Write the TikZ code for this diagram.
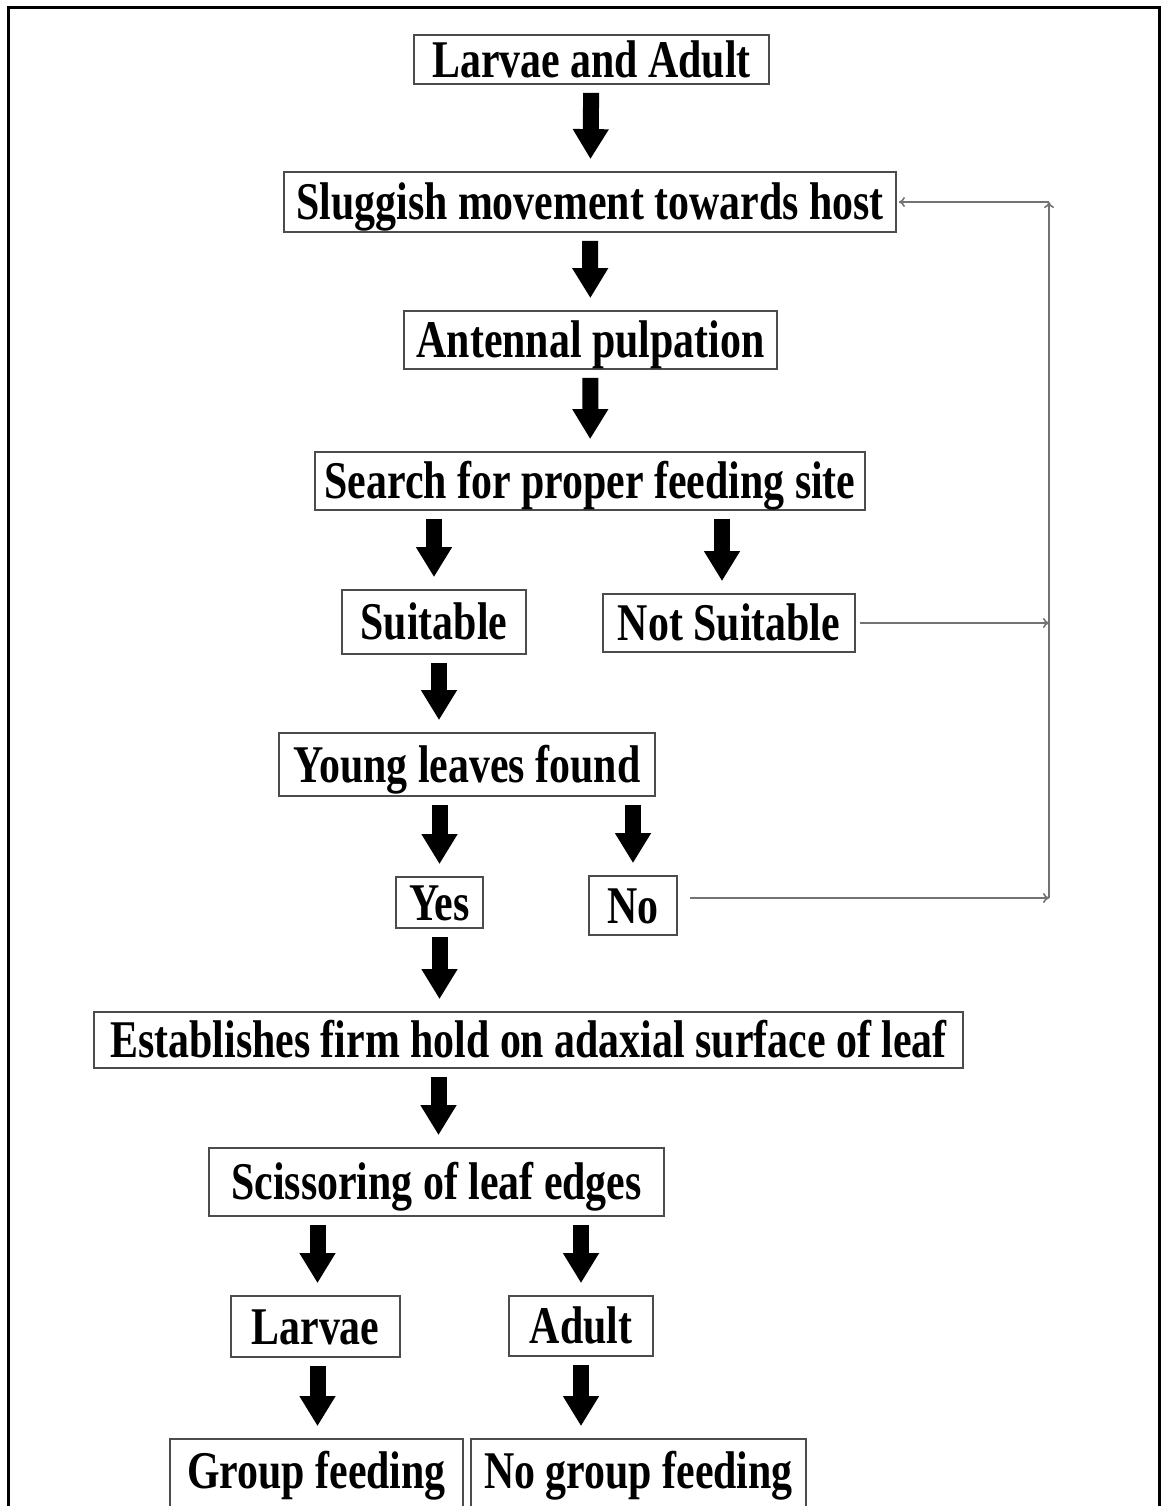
\documentclass[tikz,border=0pt]{standalone}
\usepackage{fontspec}
\setmainfont[FakeStretch=0.79]{Liberation Serif}
\usetikzlibrary{arrows.meta}
\begin{document}
\begin{tikzpicture}[x=0.5pt,y=-0.5pt,
  box/.style={draw=black!70,line width=0.9pt,inner sep=0pt,
    font=\bfseries\fontsize{26.5}{30}\selectfont,text height=17.5pt,text depth=0pt},
  bigarrow/.style={line width=8pt,-{Triangle[width=17pt,length=15pt]},
    shorten <=4pt,shorten >=6pt},
  back/.style={draw=black!55,line width=0.8pt,-{To[length=3pt,width=5pt]}}]
\useasboundingbox (0,0) rectangle (1162,1506);
\clip (0,0) rectangle (1162,1506);
\draw[line width=1.5pt] (8,1510) -- (8,7) -- (1159,7) -- (1159,1510);

\node[box,minimum width=177.5pt,minimum height=24.5pt] (la) at (591.5,59.5) {Larvae and Adult};
\node[box,minimum width=306pt,minimum height=30pt] (sl) at (590,202) {Sluggish movement towards host};
\node[box,minimum width=186.5pt,minimum height=29pt] (an) at (590.5,340) {Antennal pulpation};
\node[box,minimum width=275pt,minimum height=29pt] (se) at (590,481) {Search for proper feeding site};
\node[box,minimum width=92pt,minimum height=32pt] (su) at (434,622) {Suitable};
\node[box,minimum width=126pt,minimum height=29pt] (ns) at (729,623) {Not Suitable};
\node[box,minimum width=188pt,minimum height=31.5pt] (yl) at (467,764.5) {Young leaves found};
\node[box,minimum width=43.5pt,minimum height=25.5pt] (ye) at (439.5,902.5) {Yes};
\node[box,minimum width=44pt,minimum height=29.5pt] (no) at (633,905.5) {No};
\node[box,minimum width=434.5pt,minimum height=28pt] (es) at (528.5,1040) {Establishes firm hold on adaxial surface of leaf};
\node[box,minimum width=227.5pt,minimum height=34pt] (sc) at (436.5,1182) {Scissoring of leaf edges};
\node[box,minimum width=84.5pt,minimum height=30.5pt] (lv) at (315.5,1326.5) {Larvae};
\node[box,minimum width=72pt,minimum height=30pt] (ad) at (581,1326) {Adult};
\node[box,minimum width=146.5pt,minimum height=40pt,text depth=8pt] (gf) at (316.5,1479) {Group feeding};
\node[box,minimum width=167.5pt,minimum height=40pt,text depth=8pt] (ng) at (638.5,1479) {No group feeding};

\coordinate (c1) at (1049,202);
\coordinate (c2) at (1049,898);

\draw[bigarrow] (la) -- (sl);
\draw[bigarrow] (sl) -- (an);
\draw[bigarrow] (an) -- (se);
\draw[bigarrow] (su.north |- se.south) -- (su.north);
\draw[bigarrow] ([xshift=-3.5pt]ns.north |- se.south) -- ([xshift=-3.5pt]ns.north);
\draw[bigarrow] ([xshift=2.5pt]su.south) -- ([xshift=2.5pt]su.south |- yl.north);
\draw[bigarrow] (ye.north |- yl.south) -- (ye.north);
\draw[bigarrow] (no.north |- yl.south) -- (no.north);
\draw[bigarrow] (ye.south) -- (ye.south |- es.north);
\draw[bigarrow] ([xshift=1pt]sc.north |- es.south) -- ([xshift=1pt]sc.north);
\draw[bigarrow] ([xshift=1pt]lv.north |- sc.south) -- ([xshift=1pt]lv.north);
\draw[bigarrow] (ad.north |- sc.south) -- (ad.north);
\draw[bigarrow] ([xshift=1pt]lv.south) -- ([xshift=1pt]lv.south |- gf.north);
\draw[bigarrow] (ad.south) -- (ad.south |- gf.north);

\draw[back,shorten <=2pt] (ns.east) -- (ns.east -| c1);
\draw[back,shorten <=6pt] (no.east |- c2) -- (c2);
\draw[back] (c2) -- (c1);
\draw[back,shorten >=1pt] (c1) -- (sl.east);
\end{tikzpicture}
\end{document}
